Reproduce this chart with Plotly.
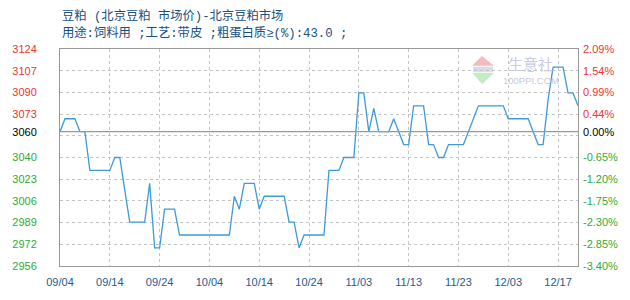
import plotly.graph_objects as go

# ---------------- data ----------------
point_index = list(range(105))
prices = [
    3060, 3070, 3070, 3070, 3060, 3060, 3030, 3030, 3030, 3030,
    3030, 3040, 3040, 3015, 2990, 2990, 2990, 2990, 3020, 2970,
    2970, 3000, 3000, 3000, 2980, 2980, 2980, 2980, 2980, 2980,
    2980, 2980, 2980, 2980, 2980, 3010, 3000, 3020, 3020, 3020,
    3000, 3010, 3010, 3010, 3010, 3010, 2990, 2990, 2970, 2980,
    2980, 2980, 2980, 2980, 3030, 3030, 3030, 3040, 3040, 3040,
    3090, 3090, 3060, 3078, 3060, 3060, 3060, 3070, 3060, 3050,
    3050, 3080, 3080, 3080, 3050, 3050, 3040, 3040, 3050, 3050,
    3050, 3050, 3060, 3070, 3080, 3080, 3080, 3080, 3080, 3080,
    3070, 3070, 3070, 3070, 3070, 3060, 3050, 3050, 3085, 3110,
    3110, 3110, 3090, 3090, 3080,
]
x_tick_pos = [0, 10, 20, 30, 40, 50, 60, 70, 80, 90, 100]
x_tick_labels = ["09/04", "09/14", "09/24", "10/04", "10/14", "10/24",
                 "11/03", "11/13", "11/23", "12/03", "12/17"]

base_price = 3060
y_min, y_max = 2956, 3124
left_tick_labels = ["3124", "3107", "3090", "3073", "", "3040",
                    "3023", "3006", "2989", "2972", "2956"]
right_tick_labels = ["2.09%", "1.54%", "0.99%", "0.44%", "", "-0.65%",
                     "-1.20%", "-1.75%", "-2.30%", "-2.85%", "-3.40%"]
base_left_label = "3060"
base_right_label = "0.00%"

title_line1 = "豆粕 (北京豆粕 市场价)-北京豆粕市场"
title_line2 = "用途:饲料用 ;工艺:带皮 ;粗蛋白质≥(%):43.0 ;"

# ---------------- styling ----------------
RED = "#ee3333"
GREEN = "#33aa33"
BLACK = "#000000"
LINE = "#3d9bd8"
BORDER = "#999999"
GRID = "#c4c4c4"
TXT = "#17507f"
TITLE_FONT = "Liberation Mono, Noto Sans CJK SC"

y_ticks = [y_max - i * (y_max - y_min) / 10 for i in range(11)] + [base_price]
all_left = left_tick_labels + [base_left_label]
all_right = right_tick_labels + [base_right_label]


def col(v):
    if abs(v - base_price) < 1e-9:
        return BLACK
    return RED if v > base_price else GREEN


left_text = [f'<span style="color:{col(v)}">{t}</span>' if t else "" for v, t in zip(y_ticks, all_left)]
right_text = [f'<span style="color:{col(v)}">{t}</span>' if t else "" for v, t in zip(y_ticks, all_right)]

fig = go.Figure()
fig.add_trace(go.Scatter(x=point_index, y=prices, mode="lines",
                         line=dict(color=LINE, width=1.3),
                         hoverinfo="skip", showlegend=False))
fig.add_trace(go.Scatter(x=point_index, y=prices, mode="lines", yaxis="y2",
                         line=dict(color="rgba(0,0,0,0)", width=0),
                         hoverinfo="skip", showlegend=False))

tickfont = dict(family="Liberation Sans, Arial, sans-serif", size=11)

fig.update_layout(
    width=630, height=300,
    margin=dict(l=50, r=50, t=49, b=30, pad=0),
    paper_bgcolor="white", plot_bgcolor="white",
    showlegend=False,
    xaxis=dict(range=[0, 104], tickmode="array", tickvals=x_tick_pos,
               ticktext=x_tick_labels, showgrid=True, gridcolor=GRID,
               griddash="3px,3px", gridwidth=1, zeroline=False,
               showline=True, mirror=True, linecolor=BORDER, linewidth=1,
               ticks="", tickfont=dict(tickfont, color="#1d5c8c"),
               ticklabelstandoff=6),
    yaxis=dict(range=[y_min, y_max], tickmode="array", tickvals=y_ticks,
               ticktext=left_text, showgrid=True, gridcolor=GRID,
               griddash="3px,3px", gridwidth=1, zeroline=False,
               showline=True, mirror=True, linecolor=BORDER, linewidth=1,
               ticks="", tickfont=tickfont, ticklabelstandoff=20),
    yaxis2=dict(range=[y_min, y_max], overlaying="y", side="right",
                tickmode="array", tickvals=y_ticks, ticktext=right_text,
                showgrid=False, zeroline=False, showline=False, ticks="",
                tickfont=tickfont, ticklabelstandoff=4),
)

# base line
fig.add_shape(type="line", xref="paper", x0=0, x1=1, yref="y",
              y0=base_price, y1=base_price, line=dict(color=BORDER, width=1.2))

# titles
fig.add_annotation(text=title_line1, xref="paper", yref="paper", x=0, y=1.1538,
                   xanchor="left", yanchor="middle", showarrow=False,
                   font=dict(family=TITLE_FONT, size=12.3, color=TXT))
fig.add_annotation(text=title_line2, xref="paper", yref="paper", x=0, y=1.0715,
                   xanchor="left", yanchor="middle", showarrow=False,
                   font=dict(family=TITLE_FONT, size=12.3, color=TXT))

# watermark logo
fig.add_shape(type="path", xref="paper", yref="paper",
              path="M 0.7957,0.9231 L 0.8145,0.9683 L 0.8377,0.9231 Z",
              fillcolor="#f6baba", line=dict(width=0), layer="below")
fig.add_shape(type="rect", xref="paper", yref="paper",
              x0=0.7975, x1=0.836, y0=0.895, y1=0.918,
              fillcolor="#d9d9ea", line=dict(width=0), layer="below")
fig.add_shape(type="path", xref="paper", yref="paper",
              path="M 0.7957,0.8900 L 0.8151,0.8371 L 0.8377,0.8900 Z",
              fillcolor="#c4ecc4", line=dict(width=0), layer="below")
fig.add_annotation(text="生意社", xref="paper", yref="paper", x=0.9075, y=0.935,
                   xanchor="center", yanchor="middle", showarrow=False,
                   font=dict(family="Noto Sans CJK SC", size=15, color="#c9cce2"))
fig.add_annotation(text="100PPI.COM", xref="paper", yref="paper", x=0.909, y=0.853,
                   xanchor="center", yanchor="middle", showarrow=False,
                   font=dict(family="Liberation Sans", size=9.5, color="#c8c8d6"))

fig.write_html("out.html")
